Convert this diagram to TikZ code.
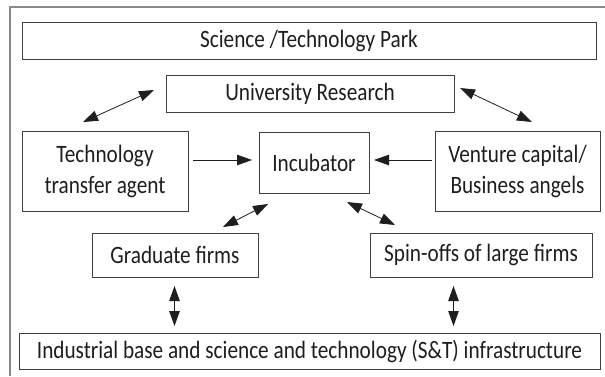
\documentclass[tikz,border=0pt]{standalone}
\usepackage{fontspec}
\setmainfont{Carlito}[FakeStretch=0.85]
\usetikzlibrary{arrows.meta}
\definecolor{boxgray}{HTML}{404040}
\definecolor{framegray}{HTML}{8A8A8A}
\definecolor{ink}{HTML}{1E1E1E}
\begin{document}
\begin{tikzpicture}[x=1pt,y=-1pt,
  box/.style={draw=boxgray, line width=0.9pt, inner sep=0pt, text=ink,
    font=\fontsize{25}{31}\selectfont, align=center},
  conn/.style={draw=ink, line width=0.8pt},
  tip/.tip={Triangle[length=15pt,width=10.5pt]},
  dbl/.style={conn, tip-tip},
  sgl/.style={conn, -tip}]
\useasboundingbox (0,0) rectangle (605,376);
% outer frame (cropped)
\coordinate (fbl) at (10,376);
\coordinate (ftl) at (10,7);
\coordinate (ftr) at (605,7);
\draw[framegray, line width=1.5pt] (fbl) -- (ftl) -- (ftr);
% boxes
\node[box, minimum width=574pt, minimum height=37pt] (sci) at (309,40.5) {Science /Technology Park};
\node[box, minimum width=288pt, minimum height=37pt] (univ) at (310,93.5) {University Research};
\node[box, minimum width=166pt, minimum height=80pt] (tech) at (105,171) {Technology\\transfer agent};
\node[box, minimum width=110pt, minimum height=61pt] (incub) at (314,162.5) {Incubator};
\node[box, minimum width=165pt, minimum height=80pt] (vent) at (517.5,171) {Venture capital/\\Business angels};
\node[box, minimum width=166pt, minimum height=44pt] (grad) at (175,255) {Graduate firms};
\node[box, minimum width=222pt, minimum height=44pt] (spin) at (481,255) {Spin-offs of large firms};
\node[box, minimum width=581pt, minimum height=36pt] (base) at (309.5,351) {Industrial base and science and technology (S\&T) infrastructure};
% connector ends
\coordinate (ut1) at (83,122);   \coordinate (ut2) at (154,90);
\coordinate (uv1) at (460,88);   \coordinate (uv2) at (532,122);
\coordinate (ti1) at (193,160);  \coordinate (ti2) at (252,160);
\coordinate (vi1) at (432,160);  \coordinate (vi2) at (374,160);
\coordinate (gi1) at (223,227);  \coordinate (gi2) at (268,204);
\coordinate (is1) at (347,202);  \coordinate (is2) at (395,225);
\coordinate (gb1) at (174.5,286); \coordinate (gb2) at (174.5,326);
\coordinate (sb1) at (453.5,286); \coordinate (sb2) at (453.5,326);
% connectors
\draw[dbl] (ut1) -- (ut2);
\draw[dbl] (uv1) -- (uv2);
\draw[sgl] (ti1) -- (ti2);
\draw[sgl] (vi1) -- (vi2);
\draw[dbl] (gi1) -- (gi2);
\draw[dbl] (is1) -- (is2);
\draw[dbl] (gb1) -- (gb2);
\draw[dbl] (sb1) -- (sb2);
\end{tikzpicture}
\end{document}
